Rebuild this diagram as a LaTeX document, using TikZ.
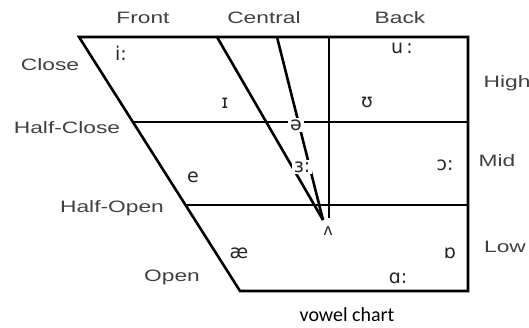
\documentclass[tikz,border=0pt]{standalone}
\usepackage{fontspec}
\usepackage{graphicx}
\setmainfont{Liberation Sans}
\newfontfamily\ipafont{DejaVu Sans}
\newfontfamily\captionfont{Carlito}
\newcommand{\widetext}[1]{\scalebox{1.38}[1]{#1}}

\begin{document}
\begin{tikzpicture}[
  x=1pt,y=-1pt,
  chart/.style={line width=2.6pt,line join=miter},
  side/.style={font=\fontsize{16.5}{18}\selectfont,text=black!75,inner sep=0pt},
  vowel/.style={font=\ipafont\fontsize{19}{21}\selectfont,text=black!85,inner sep=1pt},
  gapvowel/.style={vowel,fill=white,inner sep=2pt}
]
  \useasboundingbox (0,0) rectangle (529,327);

  % outline of the chart
  \coordinate (tl) at (79,37);
  \coordinate (tr) at (468,37);
  \coordinate (br) at (468,291);
  \coordinate (bl) at (240,291);
  \coordinate (hcl) at (133,122);
  \coordinate (hcr) at (468,122);
  \coordinate (hol) at (185.5,205);
  \coordinate (hor) at (468,205);
  \coordinate (ctop) at (329,37);
  \coordinate (cbot) at (329,218);
  \coordinate (fronttop) at (217,37);
  \coordinate (centtop) at (277,37);
  \coordinate (apex) at (323,220);

  \draw[chart] (tl) -- (tr) -- (br) -- (bl) -- cycle;
  \draw[chart] (hcl) -- (hcr);
  \draw[chart] (hol) -- (hor);
  \draw[chart] (ctop) -- (cbot);
  \draw[chart] (fronttop) -- (apex);
  \draw[chart] (centtop) -- (apex);

  % column and row labels
  \node[side] (front) at (143,18) {\widetext{Front}};
  \node[side] (central) at (264,18) {\widetext{Central}};
  \node[side] (back) at (400,18) {\widetext{Back}};
  \node[side] (close) at (50,65) {\widetext{Close}};
  \node[side] (halfclose) at (67,128) {\widetext{Half-Close}};
  \node[side] (halfopen) at (112,208) {\widetext{Half-Open}};
  \node[side] (open) at (172,277) {\widetext{Open}};
  \node[side] (high) at (507,83) {\widetext{High}};
  \node[side] (mid) at (497,161) {\widetext{Mid}};
  \node[side] (low) at (505,247) {\widetext{Low}};

  % vowels
  \node[vowel] (ii) at (121,53) {i:};
  \node[vowel] (ih) at (225,103) {ɪ};
  \node[gapvowel] (schwa) at (296,125) {ə};
  \node[vowel] (uh) at (367,102) {ʊ};
  \node[vowel] (uu) at (402,48) {u\,:};
  \node[gapvowel] (er) at (302,167) {ɜ:};
  \node[vowel] (eh) at (193,177) {e};
  \node[vowel] (oo) at (445,165) {ɔ:};
  \node[vowel,font=\ipafont\fontsize{16}{18}\selectfont] (uhh) at (328,231) {ʌ};
  \node[vowel] (ae) at (239,253) {æ};
  \node[vowel] (ot) at (450,253) {ɒ};
  \node[vowel] (aa) at (398,278) {ɑ:};

  \node[font=\captionfont\fontsize{20}{22}\selectfont,inner sep=0pt] (caption) at (347,315) {vowel chart};
\end{tikzpicture}
\end{document}
